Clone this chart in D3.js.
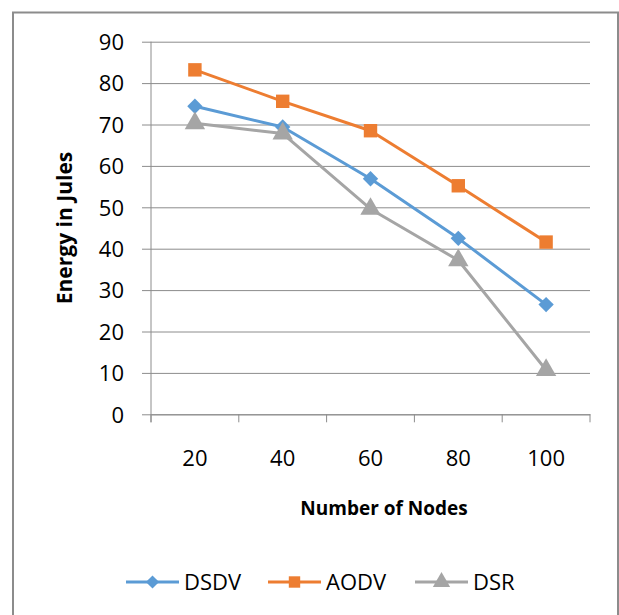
<!DOCTYPE html>
<html lang="en">
<head>
<meta charset="UTF-8">
<title>Energy vs Nodes</title>
<script src="https://cdn.jsdelivr.net/npm/d3@7"></script>
<style>
  body { margin: 0; background: #fff; }
  text { font-family: "Open Sans", Lato, sans-serif; fill: #000; }
</style>
</head>
<body>
<svg width="619" height="615" class="chart"></svg>
<script>
    // chart data
    var nodes = ["20", "40", "60", "80", "100"];
    var dsdv = [74.4, 69.4, 56.9, 42.5, 26.5];
    var aodv = [83.2, 75.6, 68.5, 55.2, 41.6];
    var dsr = [70.3, 67.8, 49.6, 37.2, 10.7];
    var yTicks = [0, 10, 20, 30, 40, 50, 60, 70, 80, 90];

    var series = [
        {name: "DSDV", values: dsdv, color: "#5B9BD5", symbol: d3.symbolDiamond2},
        {name: "AODV", values: aodv, color: "#ED7D31", symbol: d3.symbolSquare},
        {name: "DSR", values: dsr, color: "#A5A5A5", symbol: d3.symbolTriangle}
    ];

    var svg = d3.select("svg.chart");

    // outer frame (bottom edge is cut off in the original)
    svg.append("path")
        .attr("d", "M13,616 L13,12.5 L618,12.5 L618,616")
        .attr("fill", "none")
        .attr("stroke", "#8c8c8c")
        .attr("stroke-width", 2);

    var plotL = 151, plotR = 590, plotT = 41.7, plotB = 414.3;

    var x = d3.scaleBand().domain(nodes).range([plotL, plotR]);
    var y = d3.scaleLinear().domain([0, 90]).range([plotB, plotT]);

    // gridlines + y ticks
    var gy = svg.append("g")
        .attr("transform", "translate(" + plotL + ",0)")
        .call(d3.axisLeft(y).tickValues(yTicks).tickSize(-(plotR - plotL)).tickSizeOuter(0).tickPadding(27));
    gy.select(".domain").remove();
    gy.selectAll(".tick line")
        .attr("stroke", "#8c8c8c")
        .attr("x1", -9);
    gy.selectAll(".tick text")
        .attr("font-size", "22px")
        .attr("dy", "0.35em");

    // vertical axis line
    svg.append("line")
        .attr("x1", plotL).attr("x2", plotL)
        .attr("y1", plotT).attr("y2", plotB + 8)
        .attr("stroke", "#8c8c8c");

    // x axis
    var gx = svg.append("g")
        .attr("transform", "translate(0," + plotB + ")")
        .call(d3.axisBottom(x).tickSize(0).tickPadding(36));
    gx.select(".domain").attr("stroke", "#8c8c8c");
    gx.selectAll(".tick text").attr("font-size", "22px");
    var bounds = [plotL].concat(nodes.map(function (d) { return x(d) + x.bandwidth(); }));
    gx.selectAll(".sep")
        .data(bounds)
        .enter().append("line")
        .attr("class", "sep")
        .attr("x1", function (d) { return d; })
        .attr("x2", function (d) { return d; })
        .attr("y1", 0).attr("y2", 8)
        .attr("stroke", "#8c8c8c");

    // axis titles
    svg.append("text")
        .attr("x", 384)
        .attr("y", 515)
        .attr("text-anchor", "middle")
        .attr("font-size", "19px")
        .attr("font-weight", "bold")
        .text("Number of Nodes");

    svg.append("text")
        .attr("transform", "translate(72,228) rotate(-90)")
        .attr("text-anchor", "middle")
        .attr("font-size", "21px")
        .attr("font-weight", "bold")
        .text("Energy in Jules");

    var line = d3.line()
        .x(function (d, i) { return x(nodes[i]) + x.bandwidth() / 2; })
        .y(function (d) { return y(d); });

    series.forEach(function (s) {
        svg.append("path")
            .datum(s.values)
            .attr("fill", "none")
            .attr("stroke", s.color)
            .attr("stroke-width", 3)
            .attr("stroke-linejoin", "round")
            .attr("d", line);
    });

    series.forEach(function (s) {
        svg.selectAll(".m-" + s.name)
            .data(s.values)
            .enter().append("path")
            .attr("class", "m-" + s.name)
            .attr("transform", function (d, i) {
                return "translate(" + (x(nodes[i]) + x.bandwidth() / 2) + "," + y(d) + ")";
            })
            .attr("d", d3.symbol().type(s.symbol).size(s.symbol === d3.symbolDiamond2 ? 150 : 180))
            .attr("fill", s.color);
    });

    // legend
    var legendX = [126, 268, 415];
    var lg = svg.selectAll(".legend")
        .data(series)
        .enter().append("g")
        .attr("class", "legend")
        .attr("transform", function (d, i) { return "translate(" + legendX[i] + ",582)"; });
    lg.append("line")
        .attr("x1", 0).attr("x2", 53)
        .attr("stroke", function (d) { return d.color; })
        .attr("stroke-width", 3);
    lg.append("path")
        .attr("transform", "translate(26.5,0)")
        .attr("d", function (d) {
            return d3.symbol().type(d.symbol).size(d.symbol === d3.symbolDiamond2 ? 110 : 130)();
        })
        .attr("fill", function (d) { return d.color; });
    lg.append("text")
        .attr("x", 58)
        .attr("dy", "0.35em")
        .attr("font-size", "22px")
        .text(function (d) { return d.name; });
</script>
</body>
</html>
